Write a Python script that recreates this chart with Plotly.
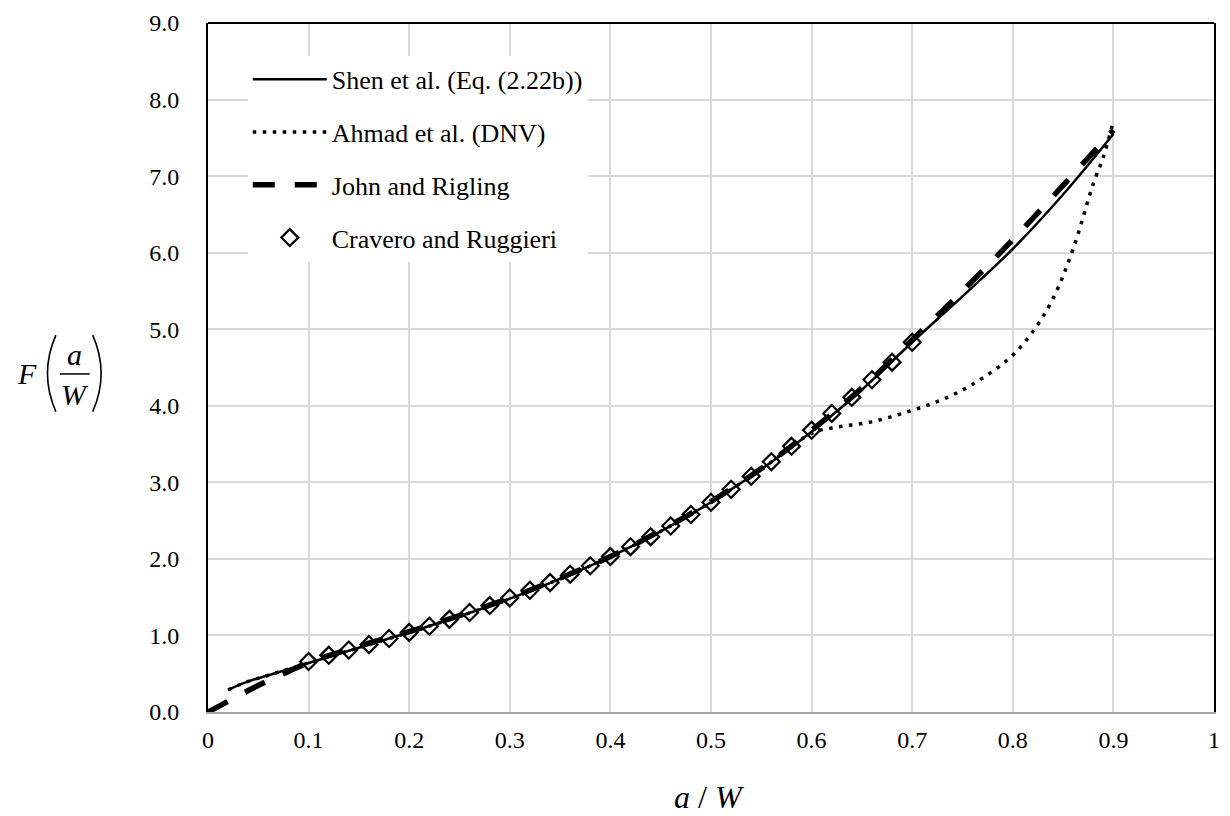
import plotly.graph_objects as go

# ---- data ----
shen_x = [0.02, 0.04, 0.06, 0.08, 0.10, 0.15, 0.20, 0.25, 0.30, 0.35, 0.40, 0.45,
          0.50, 0.55, 0.60, 0.65, 0.70, 0.75, 0.80, 0.85, 0.90]
shen_y = [0.29, 0.40, 0.48, 0.56, 0.64, 0.84, 1.04, 1.25, 1.48, 1.74, 2.03, 2.36,
          2.74, 3.17, 3.66, 4.21, 4.83, 5.43, 6.05, 6.76, 7.55]

ahmad_x = [0.02, 0.04, 0.06, 0.08, 0.10, 0.15, 0.20, 0.25, 0.30, 0.35, 0.40, 0.45,
           0.50, 0.55, 0.60, 0.62, 0.64, 0.66, 0.68, 0.70, 0.72, 0.74, 0.76, 0.78,
           0.80, 0.82, 0.84, 0.86, 0.88, 0.89, 0.90]
ahmad_y = [0.29, 0.40, 0.48, 0.56, 0.64, 0.84, 1.04, 1.25, 1.48, 1.74, 2.03, 2.36,
           2.74, 3.17, 3.64, 3.71, 3.75, 3.79, 3.86, 3.94, 4.03, 4.14, 4.28, 4.45,
           4.66, 4.97, 5.40, 6.05, 6.90, 7.25, 7.72]

john_x = [0.00, 0.02, 0.04, 0.06, 0.08, 0.10, 0.15, 0.20, 0.25, 0.30, 0.35, 0.40,
          0.45, 0.50, 0.55, 0.60, 0.65, 0.70, 0.75, 0.80, 0.85, 0.90]
john_y = [0.00, 0.14, 0.28, 0.41, 0.53, 0.645, 0.86, 1.05, 1.26, 1.49, 1.75, 2.03,
          2.37, 2.75, 3.18, 3.68, 4.23, 4.86, 5.50, 6.17, 6.88, 7.60]

crav_x = [0.10, 0.12, 0.14, 0.16, 0.18, 0.20, 0.22, 0.24, 0.26, 0.28, 0.30, 0.32,
          0.34, 0.36, 0.38, 0.40, 0.42, 0.44, 0.46, 0.48, 0.50, 0.52, 0.54, 0.56,
          0.58, 0.60, 0.62, 0.64, 0.66, 0.68, 0.70]
crav_y = [0.66, 0.74, 0.81, 0.88, 0.96, 1.04, 1.12, 1.21, 1.30, 1.39, 1.49, 1.59,
          1.69, 1.80, 1.91, 2.03, 2.16, 2.29, 2.43, 2.58, 2.74, 2.91, 3.08, 3.27,
          3.47, 3.68, 3.90, 4.11, 4.34, 4.57, 4.83]

x_tickvals = [0, 0.1, 0.2, 0.3, 0.4, 0.5, 0.6, 0.7, 0.8, 0.9, 1.0]
x_ticktext = ["0", "0.1", "0.2", "0.3", "0.4", "0.5", "0.6", "0.7", "0.8", "0.9", "1"]
y_tickvals = [0, 1, 2, 3, 4, 5, 6, 7, 8, 9]

names = ["Shen et al. (Eq. (2.22b))", "Ahmad et al. (DNV)", "John and Rigling",
         "Cravero and Ruggieri"]

FONT = "Liberation Serif"

fig = go.Figure()
fig.add_trace(go.Scatter(x=shen_x, y=shen_y, mode="lines", name=names[0],
                         legendgroup="a", line=dict(color="black", width=2.5, shape="spline")))
fig.add_trace(go.Scatter(x=ahmad_x, y=ahmad_y, mode="lines", name=names[1],
                         legendgroup="b",
                         line=dict(color="black", width=3.5, dash="3.5px,6.5px", shape="spline")))
fig.add_trace(go.Scatter(x=john_x, y=john_y, mode="lines", name=names[2],
                         legendgroup="c",
                         line=dict(color="black", width=5.5, dash="22px,20px", shape="spline")))
fig.add_trace(go.Scatter(x=crav_x, y=crav_y, mode="markers", name=names[3],
                         legendgroup="d",
                         marker=dict(symbol="diamond-open", size=13, color="black",
                                     line=dict(color="black", width=2.2))))

W, H = 1230, 816
L, R, T, B = 208, 10, 19, 104
pw, ph = W - L - R, H - T - B


def px(x):
    return (x - L) / pw


def py(y):
    return (H - B - y) / ph


fig.update_layout(
    width=W, height=H,
    margin=dict(l=L, r=R, t=T, b=B),
    paper_bgcolor="white", plot_bgcolor="white",
    font=dict(family=FONT, size=24, color="black"),
    showlegend=True,
    legend=dict(x=px(248), y=py(52), xanchor="left", yanchor="top",
                bgcolor="white", borderwidth=0, itemwidth=74,
                tracegroupgap=16, font=dict(family=FONT, size=26, color="black")),
    xaxis=dict(range=[0, 1], tickvals=x_tickvals, ticktext=x_ticktext,
               showgrid=True, gridcolor="#d9d9d9", gridwidth=2,
               showline=True, linecolor="#a6a6a6", linewidth=2, zeroline=False,
               ticks="", ticklabelstandoff=5,
               tickfont=dict(family=FONT, size=24, color="black")),
    yaxis=dict(range=[0, 9], tickvals=y_tickvals, tickformat=".1f",
               showgrid=True, gridcolor="#d9d9d9", gridwidth=2,
               showline=True, linecolor="black", linewidth=2, mirror=True,
               zeroline=False, ticks="", ticklabelstandoff=22,
               tickfont=dict(family=FONT, size=24, color="black")),
)

# top frame line (black)
fig.add_shape(type="line", xref="paper", yref="paper", x0=0, x1=1, y0=1, y1=1,
              line=dict(color="black", width=2), layer="above")

# y-axis title: F(a/W) as a fraction
fig.add_annotation(text="<i>F</i>", xref="paper", yref="paper", x=px(26), y=py(372),
                   xanchor="center", yanchor="middle", showarrow=False,
                   font=dict(family=FONT, size=30, color="black"))
fig.add_annotation(text="<i>a</i>", xref="paper", yref="paper", x=px(74), y=py(352),
                   xanchor="center", yanchor="middle", showarrow=False,
                   font=dict(family=FONT, size=30, color="black"))
fig.add_annotation(text="<i>W</i>", xref="paper", yref="paper", x=px(74), y=py(393),
                   xanchor="center", yanchor="middle", showarrow=False,
                   font=dict(family=FONT, size=30, color="black"))
fig.add_shape(type="line", xref="paper", yref="paper", x0=px(59), x1=px(89),
              y0=py(372), y1=py(372), line=dict(color="black", width=1.5))
fig.add_shape(type="path", xref="paper", yref="paper",
              path=f"M {px(55)},{py(333)} Q {px(38)},{py(371.5)} {px(55)},{py(410)}",
              line=dict(color="black", width=1.6))
fig.add_shape(type="path", xref="paper", yref="paper",
              path=f"M {px(92)},{py(333)} Q {px(109)},{py(371.5)} {px(92)},{py(410)}",
              line=dict(color="black", width=1.6))

# x-axis title
fig.add_annotation(text="<i>a</i> / <i>W</i>", xref="paper", yref="paper",
                   x=px(712), y=py(797), xanchor="center", yanchor="middle",
                   showarrow=False, font=dict(family=FONT, size=32, color="black"))

fig.write_html("out.html")
